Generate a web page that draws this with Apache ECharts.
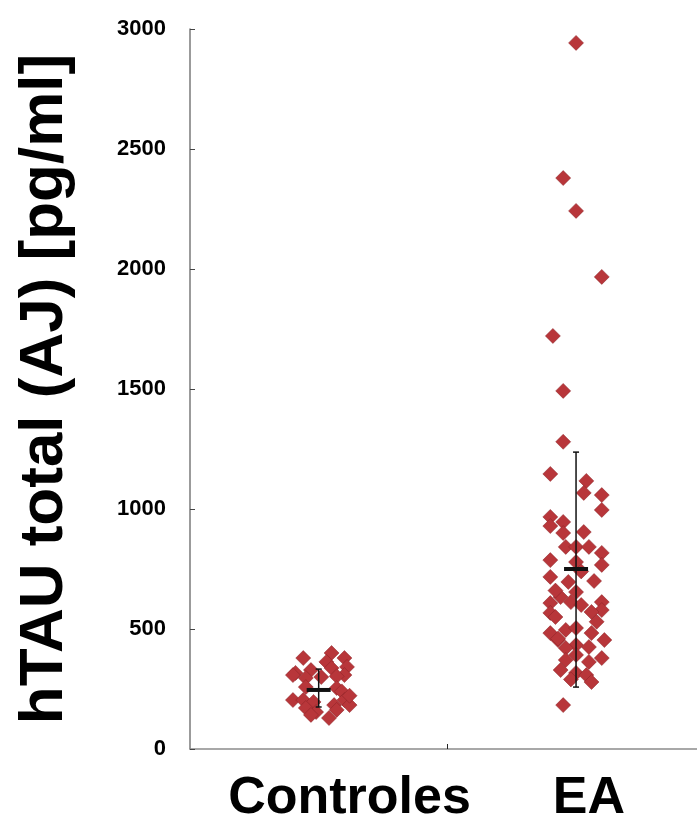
<!DOCTYPE html>
<html lang="es" style="height: 100%">
<head>
<meta charset="utf-8">
<title>hTAU total</title>
</head>
<body style="height: 100%; margin: 0; background: #fff">
<div id="container" style="height: 100%"></div>

<script type="text/javascript" src="https://cdn.jsdelivr.net/npm/echarts/dist/echarts.min.js"></script>

<script type="text/javascript">
var dom = document.getElementById('container');
var myChart = echarts.init(dom, null, {width: 697, height: 821});

// groups and their position on the x scale (centre of each band)
const categories = ['Controles', 'EA'];
const groupCenter = [0.5, 1.5];
const yTicks = [0, 500, 1000, 1500, 2000, 2500, 3000];

// Controles: [x offset inside band, value pg/ml]
const controles = [
  [-0.06, 379], [0.05, 400], [0.10, 379], [0.03, 363], [-0.09, 317],
  [-0.03, 329], [0.05, 337], [0.11, 342], [0.10, 308], [-0.10, 308],
  [-0.05, 296], [0.01, 300], [0.07, 303], [-0.05, 258], [0.07, 254],
  [0.09, 240], [-0.10, 204], [-0.06, 204], [-0.02, 196], [0.06, 183],
  [0.10, 204], [0.12, 183], [-0.05, 171], [-0.01, 154], [0.07, 163],
  [0.04, 129], [-0.03, 142], [0.12, 222]
];

// EA: [x offset inside band, value pg/ml]
const ea = [
  [0.00, 2942], [-0.05, 2379], [0.00, 2242], [0.10, 1967], [-0.09, 1721],
  [-0.05, 1492], [-0.05, 1280], [-0.10, 1146], [0.04, 1117], [0.03, 1067],
  [0.10, 1058], [0.10, 996], [-0.10, 967], [-0.10, 929], [-0.05, 946],
  [-0.05, 900], [0.03, 904], [-0.04, 842], [0.00, 842], [0.05, 842],
  [0.10, 817], [0.10, 767], [0.00, 779], [-0.10, 787], [-0.10, 717],
  [-0.03, 696], [0.00, 654], [-0.06, 633], [-0.10, 608], [-0.02, 612],
  [0.02, 600], [0.10, 612], [0.10, 579], [-0.10, 567], [0.06, 571],
  [-0.10, 483], [-0.04, 496], [0.00, 504], [0.06, 483], [-0.07, 454],
  [0.11, 454], [0.00, 433], [-0.04, 421], [0.05, 425], [0.00, 392],
  [0.10, 379], [-0.04, 371], [0.05, 363], [-0.06, 329], [0.00, 317],
  [0.04, 308], [0.06, 279], [-0.05, 183], [-0.08, 550], [0.08, 530],
  [-0.07, 460], [-0.02, 290], [0.02, 740], [-0.08, 660], [0.07, 700]
];

// mean and error range per group: [mean, low, high]
const summary = [
  [246, 175, 333],
  [750, 258, 1237]
];

function toPoints(rows, g) {
  return rows.map(function (r) { return [groupCenter[g] + r[0], r[1]]; });
}

// the group names sit a little right of the band centres in the original
var labelAt = [0.62, 1.55];

const markerStyle = {
  color: '#b8363a',
  borderColor: '#8a2326',
  borderWidth: 0.5,
  opacity: 1
};

var option = {
  animation: false,
  backgroundColor: '#fff',
  grid: {left: 190, right: 0, top: 29, bottom: 72, outerBoundsMode: 'none', containLabel: false},
  xAxis: {
    type: 'value',
    min: 0,
    max: 1.97,
    splitLine: {show: false},
    axisLine: {show: true, lineStyle: {color: '#8c8c8c', width: 1.5}},
    axisTick: {show: true, customValues: [1], length: 5, inside: true, lineStyle: {color: '#222'}},
    axisLabel: {
      customValues: labelAt,
      formatter: function (v) {
        var i = labelAt.indexOf(v);
        return i >= 0 ? categories[i] : '';
      },
      fontFamily: 'Liberation Sans',
      fontWeight: 'bold',
      fontSize: 52,
      color: '#000',
      margin: 24
    }
  },
  yAxis: {
    type: 'value',
    min: 0,
    max: 3000,
    interval: 500,
    name: 'hTAU total (AJ) [pg/ml]',
    nameLocation: 'middle',
    nameGap: 114,
    nameTextStyle: {
      fontFamily: 'Liberation Sans',
      fontWeight: 'bold',
      fontSize: 62,
      color: '#000'
    },
    splitLine: {show: false},
    axisLine: {show: true, lineStyle: {color: '#7a7a7a', width: 1.5}},
    axisTick: {show: true, inside: true, length: 5, lineStyle: {color: '#444'}},
    axisLabel: {
      fontFamily: 'Liberation Sans',
      fontWeight: 'bold',
      fontSize: 22,
      color: '#000',
      margin: 24,
      customValues: yTicks,
      formatter: function (v) { return String(v); }
    }
  },
  series: [
    {
      type: 'scatter',
      symbol: 'diamond',
      symbolSize: 15,
      itemStyle: markerStyle,
      data: toPoints(controles, 0),
      z: 2
    },
    {
      type: 'scatter',
      symbol: 'diamond',
      symbolSize: 15,
      itemStyle: markerStyle,
      data: toPoints(ea, 1),
      z: 2
    },
    {
      type: 'custom',
      z: 3,
      data: summary.map(function (s, i) { return [groupCenter[i], s[0], s[1], s[2]]; }),
      renderItem: function (params, api) {
        var x = api.value(0);
        var mid = api.coord([x, api.value(1)]);
        var lo = api.coord([x, api.value(2)]);
        var hi = api.coord([x, api.value(3)]);
        var cx = mid[0];
        var stroke = {stroke: '#111', lineWidth: 1.5};
        return {
          type: 'group',
          children: [
            {type: 'line', shape: {x1: cx, y1: lo[1], x2: cx, y2: hi[1]}, style: stroke},
            {type: 'line', shape: {x1: cx - 3, y1: lo[1], x2: cx + 3, y2: lo[1]}, style: stroke},
            {type: 'line', shape: {x1: cx - 3, y1: hi[1], x2: cx + 3, y2: hi[1]}, style: stroke},
            {type: 'line', shape: {x1: cx - 12, y1: mid[1], x2: cx + 12, y2: mid[1]}, style: {stroke: '#111', lineWidth: 4}}
          ]
        };
      }
    }
  ]
};

myChart.setOption(option);
window.addEventListener('resize', myChart.resize);
</script>
</body>
</html>
